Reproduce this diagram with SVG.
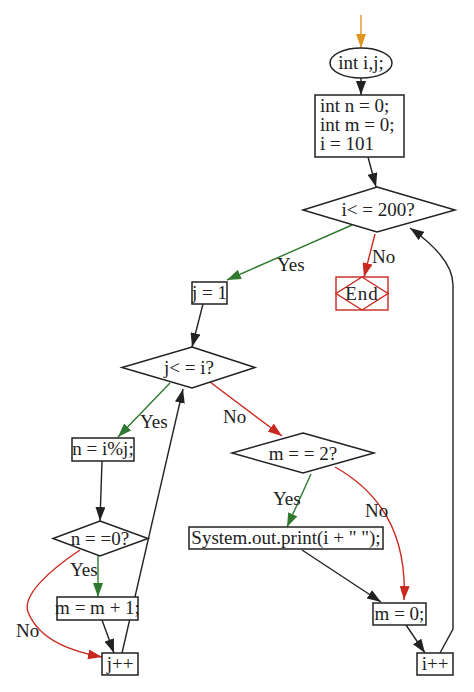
<svg xmlns="http://www.w3.org/2000/svg" width="474" height="692" viewBox="0 0 474 692">
<style>
text{font-family:"Liberation Serif","DejaVu Serif",serif;font-size:19px;fill:#222}
.c{text-anchor:middle}
.n{fill:#fff;stroke:#222;stroke-width:1.5}
.e{fill:none;stroke-width:1.4}
.k{stroke:#222}
.g{stroke:#2f7a2f}
.r{stroke:#c8281e}
.o{stroke:#e0961c}
</style>
<defs>
<marker id="ak" viewBox="0 0 14 10" refX="14" refY="5" markerWidth="14" markerHeight="10" markerUnits="userSpaceOnUse" orient="auto"><path d="M0,0L14,5L0,10z" fill="#222"/></marker>
<marker id="ag" viewBox="0 0 14 10" refX="14" refY="5" markerWidth="14" markerHeight="10" markerUnits="userSpaceOnUse" orient="auto"><path d="M0,0L14,5L0,10z" fill="#2f7a2f"/></marker>
<marker id="ar" viewBox="0 0 14 10" refX="14" refY="5" markerWidth="14" markerHeight="10" markerUnits="userSpaceOnUse" orient="auto"><path d="M0,0L14,5L0,10z" fill="#c8281e"/></marker>
<marker id="ao" viewBox="0 0 14 10" refX="14" refY="5" markerWidth="14" markerHeight="10" markerUnits="userSpaceOnUse" orient="auto"><path d="M0,0L14,5L0,10z" fill="#e0961c"/></marker>
</defs>
<g id="connectors">
<path class="e o" d="M361,15L361,48" marker-end="url(#ao)"/>
<path class="e k" d="M361,78L361,95" marker-end="url(#ak)"/>
<path class="e k" d="M368,157L376,187" marker-end="url(#ak)"/>
<path class="e g" d="M352,225L227,280" marker-end="url(#ag)"/>
<path class="e r" d="M375,234L364,277" marker-end="url(#ar)"/>
<path class="e k" d="M440,653L453,629L453,285C453,262 430,242 410,228" marker-end="url(#ak)"/>
<path class="e k" d="M203,304L192,347" marker-end="url(#ak)"/>
<path class="e g" d="M170,383L118,437" marker-end="url(#ag)"/>
<path class="e r" d="M210,382L282,436" marker-end="url(#ar)"/>
<path class="e k" d="M102,461L100,521" marker-end="url(#ak)"/>
<path class="e g" d="M98,556L98,597" marker-end="url(#ag)"/>
<path class="e r" d="M80,550C50,570 22,595 28,612C40,642 75,652 102,657" marker-end="url(#ar)"/>
<path class="e k" d="M102,620L114,653" marker-end="url(#ak)"/>
<path class="e k" d="M122,653L183,389" marker-end="url(#ak)"/>
<path class="e g" d="M311,474L287,527" marker-end="url(#ag)"/>
<path class="e r" d="M335,467C385,495 407,540 404,600" marker-end="url(#ar)"/>
<path class="e k" d="M302,550L381,602" marker-end="url(#ak)"/>
<path class="e k" d="M406,625L425,653" marker-end="url(#ak)"/>
<text x="277" y="271">Yes</text>
<text x="372" y="263">No</text>
<text x="140" y="428">Yes</text>
<text x="223" y="423">No</text>
<text x="70" y="576">Yes</text>
<text x="16" y="637">No</text>
<text x="273" y="505">Yes</text>
<text x="365" y="517">No</text>
</g>
<g id="start"><ellipse class="n" cx="361" cy="63" rx="31" ry="15"/><text class="c" x="361" y="69">int i,j;</text></g>
<g id="init"><rect class="n" x="315" y="95" width="89" height="62"/><text x="320" y="112">int n = 0;</text><text x="320" y="131">int m = 0;</text><text x="320" y="150">i = 101</text></g>
<g id="cond_i"><path class="n" d="M377,187L455,210L377,232L303,210z"/><text class="c" x="378" y="216">i&lt; = 200?</text></g>
<g id="end"><rect x="336" y="277" width="52" height="33" fill="#fff" stroke="#c8281e" stroke-width="1.4"/><path d="M362,277L388,293.5L362,310L336,293.5z" fill="none" stroke="#c8281e" stroke-width="1.4"/><text class="c" x="362" y="300" style="letter-spacing:1px">End</text></g>
<g id="j1"><rect class="n" x="192" y="282" width="35" height="22"/><text class="c" x="209.5" y="299">j = 1</text></g>
<g id="cond_j"><path class="n" d="M192,347L255,367.5L192,388L122,367.5z"/><text class="c" x="189" y="374">j&lt; = i?</text></g>
<g id="nmod"><rect class="n" x="72" y="438" width="62" height="23"/><text class="c" x="103" y="455">n = i%j;</text></g>
<g id="cond_n"><path class="n" d="M100,521L148,538.5L100,556L53,538.5z"/><text class="c" x="100" y="545">n = =0?</text></g>
<g id="minc"><rect class="n" x="57" y="597" width="81" height="23"/><text class="c" x="97.5" y="614">m = m + 1;</text></g>
<g id="jinc"><rect class="n" x="102" y="653" width="36" height="22"/><text class="c" x="120" y="670">j++</text></g>
<g id="cond_m"><path class="n" d="M303,433L374,453L303,473L232,453z"/><text class="c" x="303" y="460">m = = 2?</text></g>
<g id="print"><rect class="n" x="189" y="527" width="194" height="22"/><text class="c" x="286" y="544">System.out.print(i + " ");</text></g>
<g id="m0"><rect class="n" x="373" y="603" width="53" height="22"/><text class="c" x="399.5" y="620">m = 0;</text></g>
<g id="iinc"><rect class="n" x="417" y="653" width="36" height="22"/><text class="c" x="435" y="670">i++</text></g>
</svg>
